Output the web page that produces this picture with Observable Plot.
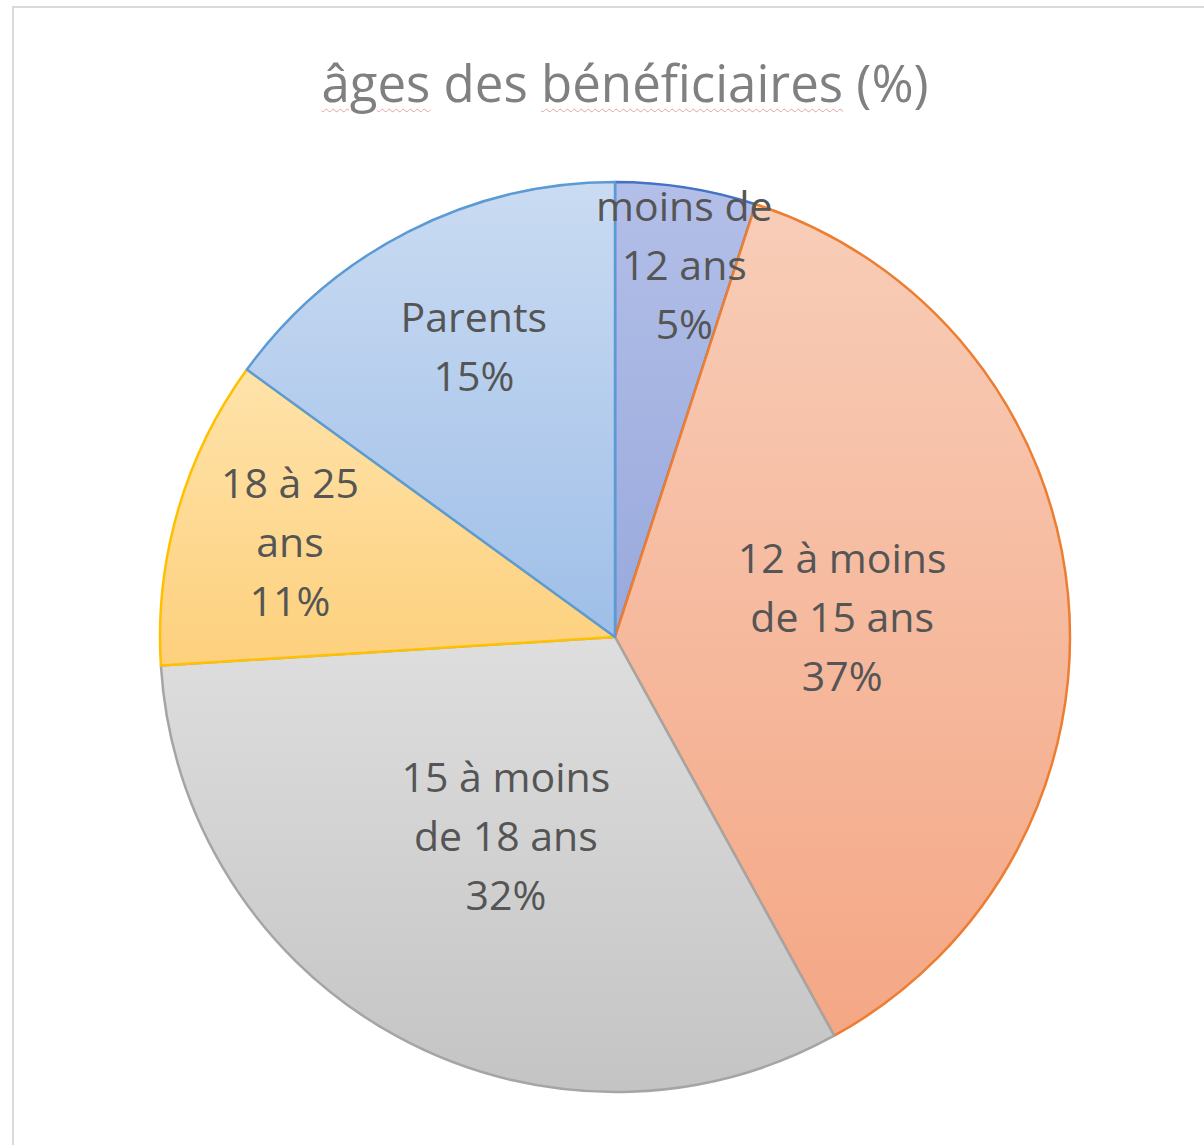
<!DOCTYPE html>
<html><head><meta charset="utf-8">
<script src="https://cdn.jsdelivr.net/npm/d3@7"></script>
<script src="https://cdn.jsdelivr.net/npm/@observablehq/plot@0.6"></script>
<style>
html,body{margin:0;padding:0;width:1204px;height:1145px;overflow:hidden;background:#fff;}
#chart{position:absolute;left:0;top:0;}
#frame{position:absolute;left:12px;top:6px;width:1300px;height:1300px;border:2px solid #d9d9d9;box-sizing:border-box;pointer-events:none;}
#title{position:absolute;left:0;width:1250px;top:47px;text-align:center;font-family:"Open Sans";font-size:51px;color:#808080;white-space:nowrap;}
#title .sp{text-decoration:underline wavy #e8a0a0;text-decoration-thickness:1px;text-underline-offset:6px;}
</style></head><body>
<div id="chart"></div>
<div id="title"><span class="sp">âges</span> des <span class="sp">bénéficiaires</span> (%)</div>
<div id="frame"></div>
<script>
// ---- data ----
const categories = ["moins de 12 ans", "12 à moins de 15 ans", "15 à moins de 18 ans", "18 à 25 ans", "Parents"];
const labelLines = [["moins de", "12 ans"], ["12 à moins", "de 15 ans"], ["15 à moins", "de 18 ans"], ["18 à 25", "ans"], ["Parents"]];
const values = [5, 37, 32, 11, 15];

// ---- style / layout ----
const gradTop = ["#b3bfe8", "#f8cdb8", "#dedede", "#ffe3aa", "#cadbf2"];
const gradBottom = ["#98a9dc", "#f4a785", "#c4c4c4", "#fdd07d", "#9fbfe8"];
const strokes = ["#4472c4", "#ed7d31", "#a5a5a5", "#ffc000", "#5b9bd5"];
const labelRadius = [0.83, 0.5, 0.5, 0.745, 0.71];
const labelAngleNudge = [1.5, 0.5, 0, 0, 1]; // degrees

const data = categories.map((c, i) => ({category: c, value: values[i], i}));
const arcs = d3.pie().value(d => d.value).sort(null)(data);
const total = d3.sum(values);

const labels = arcs.map((a, i) => {
  const mid = (a.startAngle + a.endAngle) / 2 + labelAngleNudge[i] * Math.PI / 180;
  const f = labelRadius[i];
  return {
    x: f * Math.sin(mid),
    y: f * Math.cos(mid),
    text: [...labelLines[i], Math.round(a.data.value / total * 100) + "%"].join("\n")
  };
});

function pieMark(index, scales) {
  const cx = scales.x(0), cy = scales.y(0), r = scales.x(1) - cx;
  const g = d3.create("svg:g");
  const defs = g.append("defs");
  arcs.forEach((a, i) => {
    const lg = defs.append("linearGradient").attr("id", "pg" + i)
      .attr("x1", 0).attr("y1", 0).attr("x2", 0).attr("y2", 1);
    lg.append("stop").attr("offset", "0%").attr("stop-color", gradTop[i]);
    lg.append("stop").attr("offset", "100%").attr("stop-color", gradBottom[i]);
  });
  const arc = d3.arc().innerRadius(0).outerRadius(r);
  g.attr("transform", `translate(${cx},${cy})`);
  g.selectAll("path.slice").data(arcs).join("path")
    .attr("class", "slice")
    .attr("d", arc)
    .attr("fill", (d, i) => `url(#pg${i})`)
    .attr("stroke", (d, i) => strokes[i])
    .attr("stroke-width", 2.5)
    .attr("stroke-linejoin", "round");
  return g.node();
}

const chart = Plot.plot({
  width: 1204,
  height: 1145,
  margin: 0,
  x: {domain: [-1, 1], range: [160, 1070], axis: null},
  y: {domain: [-1, 1], range: [1092, 182], axis: null},
  style: {background: "transparent", fontFamily: "Open Sans", overflow: "visible"},
  marks: [
    pieMark,
    Plot.text(labels, {
      x: "x", y: "y", text: "text",
      fontSize: 41, lineHeight: 1.44, dy: -5,
      fill: "#555555", fontFamily: "Open Sans"
    })
  ]
});
document.getElementById("chart").appendChild(chart);
</script>
</body></html>
